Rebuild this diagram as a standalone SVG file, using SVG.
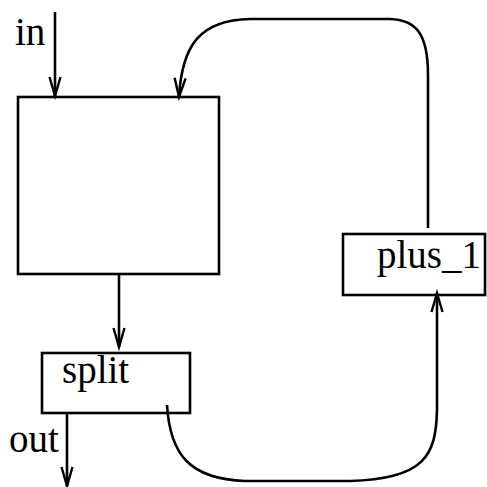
<svg xmlns="http://www.w3.org/2000/svg" width="487" height="487" viewBox="0 0 487 487">
<style>
.box{fill:#fff;stroke:#000;stroke-width:2.6}
.lbl{font-family:"Liberation Serif","Times New Roman",serif;font-size:39px;fill:#000}
.edge{fill:none;stroke:#000;stroke-width:2.6;marker-end:url(#ah)}
</style>
<defs>
<marker id="ah" markerUnits="userSpaceOnUse" markerWidth="24" markerHeight="16" refX="20" refY="7" orient="auto" viewBox="0 0 24 14">
<path d="M1 1.5 L20 7 L1 12.5" fill="none" stroke="#000" stroke-width="2.4"/>
</marker>
</defs>
<g id="main"><rect class="box" x="18" y="97" width="201" height="177"/></g>
<g id="split"><rect class="box" x="42" y="353" width="148" height="60"/><text class="lbl" x="62" y="383">split</text></g>
<g id="plus_1"><rect class="box" x="343" y="234" width="142" height="61"/><text class="lbl" x="377" y="268">plus_1</text></g>
<g id="in-label"><text class="lbl" x="15" y="45">in</text></g>
<g id="out-label"><text class="lbl" x="9" y="452">out</text></g>
<g id="connectors">
<path class="edge" d="M55 12 L55 96"/>
<path class="edge" d="M119 274 L119 347"/>
<path class="edge" d="M67 413 L67 486"/>
<path class="edge" d="M428 228 L428 75 C428 32 415 20 390 19 L250 19 C200 20 182 45 179 97"/>
<path class="edge" d="M167 405 C170 455 190 479 245 481 L350 481 C425 479 436 455 437 410 L437 293"/>
</g>
</svg>
